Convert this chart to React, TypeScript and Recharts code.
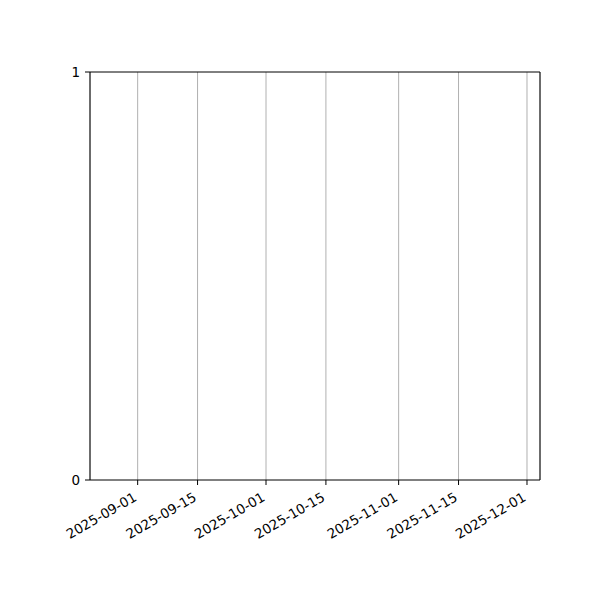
import React from "react";
import { LineChart, Line, XAxis, YAxis, CartesianGrid, ReferenceLine } from "recharts";

// Day offsets from 2025-09-01
const tickDays = [0, 14, 30, 44, 61, 75, 91];
const tickLabels = [
  "2025-09-01",
  "2025-09-15",
  "2025-10-01",
  "2025-10-15",
  "2025-11-01",
  "2025-11-15",
  "2025-12-01",
];
const xDomain = [-11.14, 94.04];
const yTicks = [0, 1];
const seriesDays: number[] = [];
const seriesValues: number[] = [];

const data = seriesDays.map((d, i) => ({ day: d, value: seriesValues[i] }));

const FONT = "DejaVu Sans";
const FS = 13.5;

const XTick = (props: any) => {
  const { x, y, payload } = props;
  const idx = tickDays.indexOf(payload.value);
  const label = idx >= 0 ? tickLabels[idx] : String(payload.value);
  return (
    <g transform={`translate(${x},${y + 15})`}>
      <text
        x={0}
        y={0}
        textAnchor="end"
        transform="rotate(-30)"
        fontFamily={FONT}
        fontSize={FS}
        fill="#000"
      >
        {label}
      </text>
    </g>
  );
};

export default function App() {
  return (
    <div style={{ position: "absolute", left: 0, top: 0, width: 600, height: 600, background: "#fff" }}>
      <LineChart
        width={600}
        height={600}
        data={data}
        margin={{ top: 72, right: 60, bottom: 90, left: 50 }}
      >
        <CartesianGrid horizontal={false} stroke="#b0b0b0" strokeWidth={1} />
        <XAxis
          dataKey="day"
          type="number"
          domain={xDomain}
          ticks={tickDays}
          allowDataOverflow
          height={30}
          tickSize={5}
          tickMargin={0}
          tick={<XTick />}
          stroke="#000"
          tickLine={{ stroke: "#000" }}
          axisLine={{ stroke: "#000" }}
        />
        <YAxis
          type="number"
          domain={[0, 1]}
          ticks={yTicks}
          allowDataOverflow
          width={40}
          tickSize={5}
          tickMargin={5}
          tick={{ fontFamily: FONT, fontSize: FS, fill: "#000" }}
          tickLine={{ stroke: "#000" }}
          axisLine={{ stroke: "#000" }}
        />
        <ReferenceLine y={1} stroke="#000" strokeWidth={1} ifOverflow="visible" />
        <ReferenceLine x={xDomain[1]} stroke="#000" strokeWidth={1} ifOverflow="visible" />
        <Line dataKey="value" stroke="#1f77b4" dot={false} isAnimationActive={false} />
      </LineChart>
    </div>
  );
}
